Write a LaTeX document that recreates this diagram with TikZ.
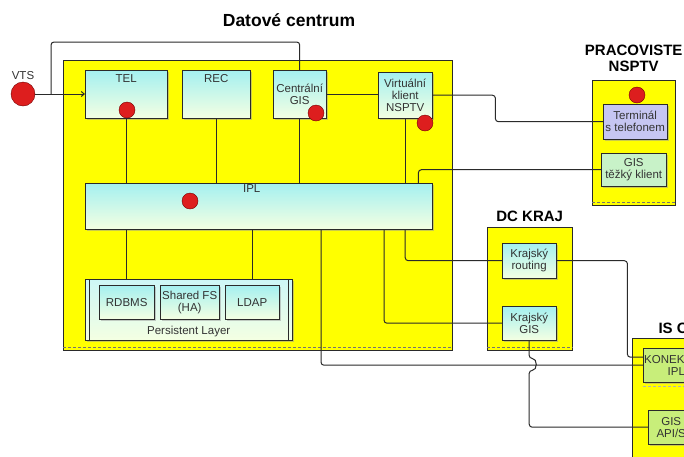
\documentclass[tikz,border=0pt]{standalone}
\usepackage{fontspec}
\setmainfont{Liberation Sans}
\usetikzlibrary{arrows.meta,positioning,shadows}
\definecolor{dcyellow}{HTML}{FFFF00}
\definecolor{dctop}{HTML}{A4F0F0}
\definecolor{dcbot}{HTML}{F4FFE2}
\definecolor{dcred}{HTML}{DD1E1E}
\definecolor{dcline}{HTML}{2A2A2A}
\definecolor{dclav}{HTML}{C6C6F2}
\definecolor{dcmint}{HTML}{C8F2C8}
\definecolor{dclime}{HTML}{C8EE7A}

\begin{document}
\begin{tikzpicture}[x=1pt, y=-1pt,
  font=\fontsize{11.5}{12}\selectfont,
  zone/.style={draw=dcline, fill=dcyellow, anchor=north west, inner sep=0pt},
  comp/.style={draw=dcline, top color=dctop, bottom color=dcbot, anchor=north west,
    align=center, inner sep=1pt, text=black!80,
    drop shadow={shadow xshift=1.5pt, shadow yshift=-1.5pt, fill=black!40}},
  client/.style={comp, top color=#1, bottom color=#1},
  tag/.style={inner sep=1pt, text=black!80},
  dot/.style={circle, fill=dcred, draw=red!45!black, thin, minimum size=16pt, inner sep=0pt},
  title/.style={font=\fontsize{15}{15.5}\selectfont\bfseries, align=center},
  link/.style={draw=dcline, line width=1pt, rounded corners=3pt},
  cut/.style={draw=black!55, dash pattern=on 3pt off 2pt},
]
\useasboundingbox[fill=white] (0,0) rectangle (684,456);

\node[zone, minimum width=389pt, minimum height=290pt] (dc) at (63,60) {};
\node[zone, minimum width=85pt, minimum height=123pt] (kraj) at (487,227) {};
\node[zone, minimum width=83pt, minimum height=125pt] (prac) at (592,80) {};
\node[zone, minimum width=70pt, minimum height=130pt] (iso) at (632,338) {};
\draw[cut] ([yshift=3pt]dc.south west) -- ([yshift=3pt]dc.south east);
\draw[cut] ([yshift=3pt]kraj.south west) -- ([yshift=3pt]kraj.south east);
\draw[cut] ([yshift=3pt]prac.south west) -- ([yshift=3pt]prac.south east);

\node[title, font=\fontsize{17.5}{18}\selectfont\bfseries] (dctitle) at (289,20) {Datové centrum};
\node[title, above=2pt of kraj] (krajtitle) {DC KRAJ};
\node[title, above=5pt of prac] (practitle) {PRACOVISTE\\NSPTV};
\node[title, anchor=west] (isotitle) at (655,328) {IS O};

\node[comp, minimum width=82pt, minimum height=48pt] (tel) at (85,70) {};
\node[comp, minimum width=68pt, minimum height=48pt] (rec) at (182,70) {};
\node[comp, minimum width=53pt, minimum height=48pt] (cgis) at (273,70) {Centrální\\GIS};
\node[comp, minimum width=54pt, minimum height=46pt] (virt) at (378,72) {Virtuální\\klient\\NSPTV};
\node[comp, minimum width=347pt, minimum height=46pt] (ipl) at (85,183) {};
\node[tag, below=3pt of tel.north] {TEL};
\node[tag, below=3pt of rec.north] {REC};
\node[tag, below=0pt of ipl.north, xshift=-7pt] {IPL};

\node[comp, top color=dctop!55!white, bottom color=dcbot, minimum width=207pt, minimum height=61pt] (pers) at (85,279) {};
\draw[dcline] ([xshift=4pt]pers.north west) -- ([xshift=4pt]pers.south west);
\draw[dcline] ([xshift=-4pt]pers.north east) -- ([xshift=-4pt]pers.south east);
\node[tag, above=2pt of pers.south] {Persistent Layer};
\node[comp, minimum width=55pt, minimum height=34pt] (rdbms) at (99,285) {RDBMS};
\node[comp, minimum width=59pt, minimum height=34pt] (sfs) at (160,285) {Shared FS\\(HA)};
\node[comp, minimum width=54pt, minimum height=34pt] (ldap) at (225,285) {LDAP};

\node[comp, minimum width=54pt, minimum height=35pt] (krout) at (502,243) {Krajský\\routing};
\node[comp, minimum width=54pt, minimum height=34pt] (kgis) at (502,306) {Krajský\\GIS};

\node[client=dclav, minimum width=64pt, minimum height=35pt] (term) at (603,104) {Terminál\\s telefonem};
\node[client=dcmint, minimum width=65pt, minimum height=33pt] (gtk) at (601,153) {GIS\\těžký klient};

\node[client=dclime, minimum width=60pt, minimum height=34pt] (kon) at (643,348) {KONEKTOR\\IPL};
\node[client=dclime, minimum width=46pt, minimum height=34pt] (gapi) at (648,410) {GIS\\API/S};
\draw[cut, black!30] ([yshift=-4pt]kon.south west) -- ([yshift=-4pt]kon.south east);

\node[dot, minimum size=24pt, label={[tag, label distance=1pt]above:VTS}] (vts) at (23,94) {};
\node[dot] (teldot) at (127,110) {};
\node[dot] (cgisdot) at (316,113) {};
\node[dot] (virtdot) at (425,123) {};
\node[dot] (ipldot) at (190,201) {};
\node[dot] (pracdot) at (637,95) {};

\coordinate (fork) at (51,94);
\draw[link, -{Straight Barb[length=3pt, width=5pt]}] (vts) -- (tel.west |- vts);
\draw[link] (fork) |- ([yshift=28pt]cgis.north) -- (cgis.north);
\draw[link] (cgis.east) -- (virt.west |- cgis.east);
\draw[link] (virt.east) -- ++(63,0) |- (term.west);
\draw[link] (gtk.west) -| ([xshift=-14pt]ipl.north east);
\foreach \n in {tel, rec, cgis, virt}
  \draw[link] (\n.south) -- (\n.south |- ipl.north);
\draw[link] (ipl.south -| tel.south) -- (pers.north -| tel.south);
\draw[link] (ipl.south -| ldap.north) -- (pers.north -| ldap.north);
\draw[link] ([xshift=236pt]ipl.south west) |- (kon.west);
\draw[link] (ipl.south -| virt.south) |- (krout.west);
\draw[link] ([xshift=299pt]ipl.south west) |- (kgis.west);
\draw[link] (krout.east) -- ++(71,0) |- ([yshift=8pt]kon.west);
\draw[link] (kgis.south) -- ([yshift=-18pt]kgis.south) to[out=0, in=0, looseness=1.8] ([yshift=-30pt]kgis.south) |- (gapi.west);
\end{tikzpicture}
\end{document}
